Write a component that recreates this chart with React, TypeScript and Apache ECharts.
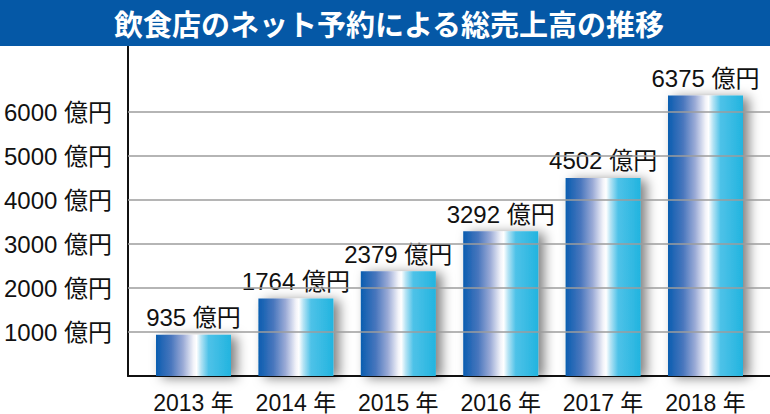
import React, { useEffect, useRef } from "react";
import * as echarts from "echarts";

const titleText = "飲食店のネット予約による総売上高の推移";
const years = ["2013", "2014", "2015", "2016", "2017", "2018"];
const sales = [935, 1764, 2379, 3292, 4502, 6375];
const gridValues = [1000, 2000, 3000, 4000, 5000, 6000];
const unit = "億円";
const yearUnit = "年";

const FONT = "'Liberation Sans', 'Noto Sans CJK JP', sans-serif";

export default function App() {
  const ref = useRef<HTMLDivElement>(null);
  useEffect(() => {
    if (!ref.current) return;
    const chart = echarts.init(ref.current, null, { renderer: "svg" });
    const barGradient = new echarts.graphic.LinearGradient(0, 0, 1, 0, [
      { offset: 0, color: "#0a5db0" },
      { offset: 0.2, color: "#4876bd" },
      { offset: 0.36, color: "#9aaad6" },
      { offset: 0.5, color: "#f2f3f9" },
      { offset: 0.54, color: "#ffffff" },
      { offset: 0.6, color: "#b4e3f4" },
      { offset: 0.7, color: "#4ec2e8" },
      { offset: 1, color: "#22b4df" },
    ]);
    chart.setOption({
      animation: false,
      backgroundColor: "#ffffff",
      graphic: [
        {
          type: "rect",
          left: 0,
          top: 0,
          shape: { width: 770, height: 46 },
          style: { fill: "#0558a6" },
          z: 10,
        },
        {
          type: "text",
          x: 389,
          y: 23,
          z: 11,
          style: {
            text: titleText,
            fill: "#ffffff",
            font: "bold 29px 'Noto Sans CJK JP', sans-serif",
            align: "center",
            verticalAlign: "middle",
          },
        },
      ],
      grid: [
        { left: 128, right: 0, top: 46, bottom: 38 },
        { left: 142.3, right: 13.3, top: 46, bottom: 38 },
      ],
      xAxis: [
        {
          gridIndex: 0,
          type: "value",
          min: 0,
          max: 1,
          axisLine: { show: true, lineStyle: { color: "#111", width: 2 } },
          axisTick: { show: false },
          axisLabel: { show: false },
          splitLine: { show: false },
        },
        {
          gridIndex: 1,
          type: "category",
          data: years,
          axisLine: { show: false },
          axisTick: { show: false },
          axisLabel: {
            interval: 0,
            hideOverlap: false,
            formatter: (v: string) => `${v} ${yearUnit}`,
            fontSize: 23,
            fontFamily: FONT,
            color: "#111",
            margin: 15,
          },
        },
      ],
      yAxis: [
        {
          gridIndex: 0,
          type: "value",
          min: 0,
          max: 7500,
          interval: 500,
          axisLine: { show: true, lineStyle: { color: "#111", width: 2 } },
          axisTick: { show: false },
          splitLine: { show: false },
          axisLabel: {
            formatter: (v: number) => (gridValues.includes(v) ? `${v} ${unit}` : ""),
            fontSize: 24,
            fontFamily: FONT,
            color: "#111",
            margin: 16,
          },
        },
        {
          gridIndex: 1,
          type: "value",
          min: 0,
          max: 7500,
          show: false,
        },
      ],
      series: [
        {
          type: "line",
          xAxisIndex: 0,
          yAxisIndex: 0,
          data: [],
          z: 1,
          markLine: {
            silent: true,
            symbol: ["none", "none"],
            label: { show: false },
            lineStyle: { color: "#9c9c9c", width: 1.5, type: "solid" },
            data: gridValues.map((v) => ({ yAxis: v })),
          },
        },
        {
          type: "bar",
          xAxisIndex: 1,
          yAxisIndex: 1,
          data: sales,
          barWidth: 75,
          z: 3,
          itemStyle: {
            color: barGradient,
            shadowColor: "rgba(0,0,0,0.5)",
            shadowBlur: 12,
            shadowOffsetX: 6,
            shadowOffsetY: 2,
          },
          label: {
            show: true,
            position: "top",
            distance: 5,
            formatter: (p: any) => `${p.value} ${unit}`,
            fontSize: 24,
            fontFamily: FONT,
            color: "#111",
          },
        },
      ],
    });
    return () => chart.dispose();
  }, []);
  return (
    <div
      ref={ref}
      style={{ position: "fixed", left: 0, top: 0, width: 770, height: 414 }}
    />
  );
}
